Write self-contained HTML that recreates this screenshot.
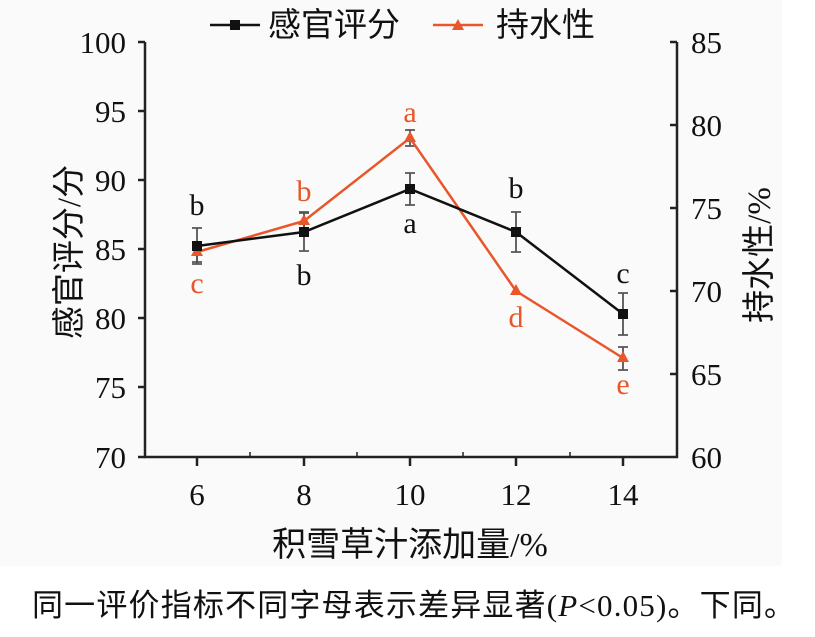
<!DOCTYPE html>
<html><head><meta charset="utf-8"><style>
body{margin:0;background:#fff;}
svg{display:block;font-family:"Liberation Serif","Noto Serif CJK SC",serif;}
</style></head><body>
<svg width="815" height="637" viewBox="0 0 815 637">
<rect x="0" y="0" width="782" height="566" fill="#fafafa"/>
<g stroke="#222" stroke-width="2.5" fill="none">
<path d="M145 42 V457 H677 V42"/>
<path d="M138 42H145M138 111H145M138 180H145M138 249H145M138 318H145M138 387H145M138 457H145"/>
<path d="M677 42H670M677 125H670M677 208H670M677 291H670M677 374H670"/>
<path d="M197 457V466M304 457V466M410 457V466M516 457V466M623 457V466"/>
<path d="M250 457V452M357 457V452M463 457V452M570 457V452" stroke-width="1.5"/>
</g>
<g font-size="31" fill="#111">
<g text-anchor="end"><text x="126" y="53">100</text><text x="126" y="122">95</text><text x="126" y="191">90</text><text x="126" y="260">85</text><text x="126" y="329">80</text><text x="126" y="398">75</text><text x="126" y="468">70</text></g>
<g><text x="691" y="53">85</text><text x="691" y="136">80</text><text x="691" y="219">75</text><text x="691" y="302">70</text><text x="691" y="385">65</text><text x="691" y="468">60</text></g>
<g text-anchor="middle"><text x="197" y="505">6</text><text x="304" y="505">8</text><text x="410" y="505">10</text><text x="516" y="505">12</text><text x="623" y="505">14</text></g>
<text x="410" y="556" font-size="34" text-anchor="middle" font-family="Liberation Serif,'Noto Sans CJK SC',sans-serif">积雪草汁添加量/%</text>
<text transform="translate(80 252) rotate(-90)" font-size="33" text-anchor="middle" font-family="Liberation Serif,'Noto Sans CJK SC',sans-serif">感官评分/分</text>
<text transform="translate(770 255) rotate(-90)" font-size="33" text-anchor="middle" font-family="Liberation Serif,'Noto Sans CJK SC',sans-serif">持水性/%</text>
<text x="32" y="616" font-size="31" textLength="763" font-family="Liberation Serif,'Noto Sans CJK SC',sans-serif">同一评价指标不同字母表示差异显著(<tspan font-style="italic">P</tspan>&lt;0.05)。下同。</text>
</g>
<g font-size="33" font-family="Liberation Serif,'Noto Sans CJK SC',sans-serif">
<line x1="210" y1="25" x2="260" y2="25" stroke="#111" stroke-width="2.5"/><rect x="230" y="20" width="10" height="10" fill="#111"/>
<text x="268" y="36" fill="#111">感官评分</text>
<line x1="433" y1="25" x2="483" y2="25" stroke="#e8562a" stroke-width="2.5"/><path d="M458 19 L464 30 L452 30Z" fill="#e8562a"/>
<text x="496" y="36" fill="#111">持水性</text>
</g>
<g stroke="#555" stroke-width="1.8">
<path d="M197 228V264M192 228H202M192 264H202"/>
<path d="M304 213V251M299 213H309M299 251H309"/>
<path d="M410 173V205M405 173H415M405 205H415"/>
<path d="M516 212V252M511 212H521M511 252H521"/>
<path d="M623 293V335M618 293H628M618 335H628"/>
<path d="M197 243V262M192 262H202"/>
<path d="M304 212V229M299 212H309"/>
<path d="M410 130V146M405 130H415M405 146H415"/>
<path d="M623 347V370M618 347H628M618 370H628"/>
</g>
<polyline points="197,252 304,221 410,138 516,291 623,358" fill="none" stroke="#e8562a" stroke-width="2.5"/>
<g fill="#e8562a">
<path d="M197 245l6 11h-12z"/><path d="M304 214l6 11h-12z"/><path d="M410 131l6 11h-12z"/><path d="M516 284l6 11h-12z"/><path d="M623 351l6 11h-12z"/>
</g>
<polyline points="197,246 304,232 410,189 516,232 623,314" fill="none" stroke="#111" stroke-width="2.5"/>
<g fill="#111">
<rect x="192" y="241" width="10" height="10"/><rect x="299" y="227" width="10" height="10"/><rect x="405" y="184" width="10" height="10"/><rect x="511" y="227" width="10" height="10"/><rect x="618" y="309" width="10" height="10"/>
</g>
<g font-size="30" text-anchor="middle" fill="#111">
<text x="197" y="215">b</text><text x="304" y="285">b</text><text x="410" y="233">a</text><text x="516" y="198">b</text><text x="623" y="283">c</text>
</g>
<g font-size="30" text-anchor="middle" fill="#e8562a">
<text x="197" y="293">c</text><text x="304" y="201">b</text><text x="410" y="122">a</text><text x="516" y="327">d</text><text x="623" y="394">e</text>
</g>
</svg>
</body></html>
